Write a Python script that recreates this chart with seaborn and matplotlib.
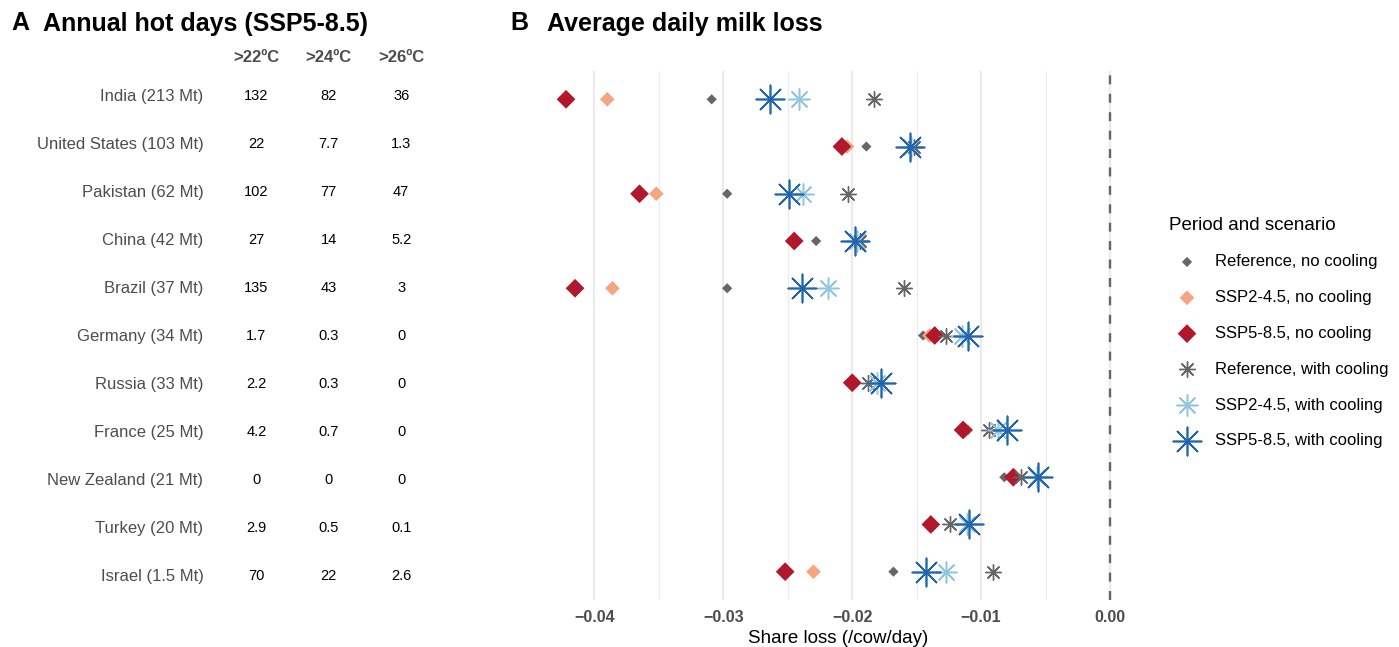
import numpy as np
import pandas as pd
import matplotlib
matplotlib.use("Agg")
import matplotlib.pyplot as plt
import seaborn as sns
from matplotlib.colors import ListedColormap
from matplotlib.ticker import MultipleLocator

# ---------------- data ----------------
countries = ["India (213 Mt)", "United States (103 Mt)", "Pakistan (62 Mt)",
             "China (42 Mt)", "Brazil (37 Mt)", "Germany (34 Mt)", "Russia (33 Mt)",
             "France (25 Mt)", "New Zealand (21 Mt)", "Turkey (20 Mt)", "Israel (1.5 Mt)"]

hot_headers = [">22ºC", ">24ºC", ">26ºC"]
hot_22 = [132, 22, 102, 27, 135, 1.7, 2.2, 4.2, 0, 2.9, 70]
hot_24 = [82, 7.7, 77, 14, 43, 0.3, 0.3, 0.7, 0, 0.5, 22]
hot_26 = [36, 1.3, 47, 5.2, 3, 0, 0, 0, 0, 0.1, 2.6]

series_names = ["Reference, no cooling", "SSP2-4.5, no cooling", "SSP5-8.5, no cooling",
                "Reference, with cooling", "SSP2-4.5, with cooling", "SSP5-8.5, with cooling"]
loss_ref_nocool = [-0.0309, -0.0189, -0.0297, -0.0228, -0.0297, -0.0145, -0.0197, -0.0110, -0.0082, -0.0137, -0.0168]
loss_ssp2_nocool = [-0.0390, -0.0204, -0.0352, -0.0244, -0.0386, -0.0140, -0.0199, -0.0112, -0.0073, -0.0138, -0.0230]
loss_ssp5_nocool = [-0.0422, -0.0208, -0.0365, -0.0245, -0.0415, -0.0136, -0.0200, -0.0114, -0.0075, -0.0139, -0.0252]
loss_ref_cool = [-0.0183, -0.0152, -0.0203, -0.0194, -0.0160, -0.0127, -0.0188, -0.0094, -0.0069, -0.0124, -0.0091]
loss_ssp2_cool = [-0.0241, -0.0154, -0.0238, -0.0196, -0.0219, -0.0115, -0.0181, -0.0087, -0.0057, -0.0111, -0.0127]
loss_ssp5_cool = [-0.0264, -0.0155, -0.0249, -0.0198, -0.0239, -0.0110, -0.0178, -0.0080, -0.0056, -0.0109, -0.0143]

series_values = [loss_ref_nocool, loss_ssp2_nocool, loss_ssp5_nocool,
                 loss_ref_cool, loss_ssp2_cool, loss_ssp5_cool]

# ---------------- styles ----------------
STAR = (8, 2, 0)
styles = [
    dict(marker="D", color="#666666", s=27, linewidth=0),
    dict(marker="D", color="#F4A582", s=56, linewidth=0),
    dict(marker="D", color="#B2182B", s=91, linewidth=0),
    dict(marker=STAR, color="#666666", s=128, linewidth=1.0),
    dict(marker=STAR, color="#92C5DE", s=229, linewidth=1.1),
    dict(marker=STAR, color="#2166AC", s=415, linewidth=1.2),
]

sns.set_theme(style="white")
plt.rcParams["font.family"] = ["Liberation Sans", "DejaVu Sans"]
plt.rcParams["axes.unicode_minus"] = True

W, H = 1399, 647
fig = plt.figure(figsize=(W / 100, H / 100), dpi=100)
fig.patch.set_facecolor("white")

# ---------------- panel B ----------------
row0, row_step = 99.3, 47.24
n = len(countries)
top_px = row0 - 0.6 * row_step
bot_px = row0 + (n - 1) * row_step + 0.6 * row_step

all_vals = np.concatenate([np.asarray(v) for v in series_values] + [[0.0]])
lo, hi = all_vals.min(), 0.0
span = hi - lo
xlim = (lo - 0.05 * span, hi + 0.05 * span)
px_per_unit = 12890.0
x0_px = 1110 + xlim[0] * px_per_unit
x1_px = 1110 + xlim[1] * px_per_unit

ax = fig.add_axes([x0_px / W, (H - bot_px) / H, (x1_px - x0_px) / W, (bot_px - top_px) / H])
ax.set_facecolor("white")

for name, vals, st in zip(series_names, series_values, styles):
    df = pd.DataFrame({"loss": vals, "country": countries})
    kw = dict(st)
    if kw["marker"] == "D":
        kw["edgecolor"] = "none"
    sns.scatterplot(data=df, x="loss", y="country", ax=ax, legend=False,
                    label=name, zorder=3, **kw)

ax.axvline(0, color="#666666", lw=1.7, linestyle=(0, (3.8, 4.0)), zorder=2)
ax.set_xlim(*xlim)
ax.set_ylim(n - 1 + 0.6, -0.6)
ax.set_yticks([])
ax.set_ylabel("")
ticks = np.round(np.arange(-4, 1) * 0.01, 2)
ax.set_xticks(ticks, labels=[f"{t:.2f}".replace("-", "\u2212") for t in ticks],
              fontweight="bold")
ax.xaxis.set_minor_locator(MultipleLocator(0.005))
ax.grid(which="major", axis="x", color="#ebebeb", lw=1.6, zorder=0)
ax.grid(which="minor", axis="x", color="#ebebeb", lw=0.8, zorder=0)
ax.grid(which="both", axis="y", visible=False)
ax.set_axisbelow(True)
ax.tick_params(axis="x", which="both", length=0, pad=7, labelsize=11.5, labelcolor="#4d4d4d")
for sp in ax.spines.values():
    sp.set_visible(False)
ax.set_xlabel("Share loss (/cow/day)", fontsize=13.5, color="black", labelpad=4)

leg = ax.legend(title="Period and scenario", loc="upper left",
                bbox_to_anchor=(1169 / W, 1 - 216.5 / H), bbox_transform=fig.transFigure,
                frameon=False, fontsize=12, title_fontsize=13.5, borderpad=0,
                borderaxespad=0, labelspacing=1.25, handlelength=2.16,
                handletextpad=0.6, alignment="left", scatterpoints=1)
for t in leg.get_texts():
    t.set_color("black")
leg.get_title().set_color("black")

# ---------------- panel A (table) ----------------
trow0, trow_step = 96.0, 48.0
col_c0, col_step = 256.3, 72.4
tx0 = col_c0 - col_step / 2
tx1 = tx0 + 3 * col_step
ttop = trow0 - trow_step / 2
tbot = trow0 + (n - 1) * trow_step + trow_step / 2
axt = fig.add_axes([tx0 / W, (H - tbot) / H, (tx1 - tx0) / W, (tbot - ttop) / H])

table = np.column_stack([hot_22, hot_24, hot_26])
annot = np.array([[f"{v:g}" for v in row] for row in table])
sns.heatmap(table, annot=annot, fmt="", cmap=ListedColormap(["white"]), cbar=False,
            xticklabels=hot_headers, yticklabels=countries, ax=axt,
            annot_kws={"color": "black", "fontsize": 10.5})
axt.xaxis.tick_top()
axt.tick_params(axis="x", length=0, pad=5, labelsize=12, labelcolor="#4d4d4d")
axt.tick_params(axis="y", length=0, pad=12, labelsize=12, labelcolor="#4d4d4d")
plt.setp(axt.get_xticklabels(), fontweight="bold", rotation=0)
plt.setp(axt.get_yticklabels(), rotation=0)

# ---------------- titles ----------------
fig.text(11.5 / W, 1 - 30.5 / H, "A", fontsize=18, fontweight="bold", va="baseline",
         ha="left", color="black")
fig.text(43 / W, 1 - 30.5 / H, "Annual hot days (SSP5-8.5)", fontsize=18, fontweight="bold",
         va="baseline", ha="left", color="black")
fig.text(510 / W, 1 - 30.5 / H, "B", fontsize=18, fontweight="bold", va="baseline",
         ha="left", color="black")
fig.text(547 / W, 1 - 30.5 / H, "Average daily milk loss", fontsize=18, fontweight="bold",
         va="baseline", ha="left", color="black")

fig.savefig("out.png", dpi=100, facecolor="white")
